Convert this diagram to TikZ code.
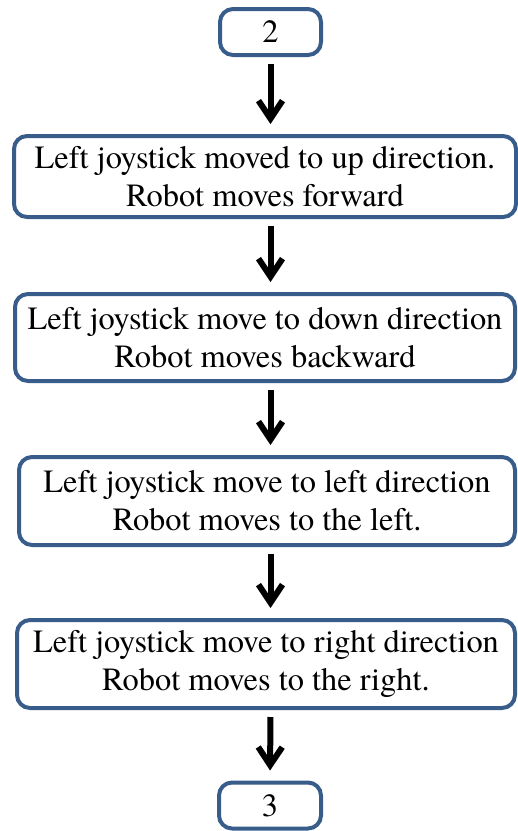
\documentclass[tikz,border=0pt]{standalone}
\usepackage{fontspec}
\setmainfont{TeX Gyre Termes}
\usetikzlibrary{arrows.meta}
\definecolor{boxblue}{HTML}{385D8A}
\begin{document}
\begin{tikzpicture}[x=0.5pt,y=-0.5pt,
  box/.style={draw=boxblue, line width=2pt, rounded corners=6.5pt, fill=white,
    align=center, inner sep=0pt, font=\fontsize{16.2}{19}\selectfont},
  flow/.style={line width=3pt, -{Straight Barb[length=9pt,width=12pt,line width=3pt]},
    shorten <=3.5pt, shorten >=5pt}]
\useasboundingbox (0,0) rectangle (518,831);

% connector boxes
\node[box, minimum width=50.5pt, minimum height=23pt] (n2) at (270.5,32) {2};
\node[box, minimum width=51pt, minimum height=23pt] (n3) at (270,805.5) {3};

% step boxes
\node[box, minimum width=251pt, minimum height=40.5pt] (b1) at (265,176.5)
  {Left joystick moved to up direction.\\Robot moves forward};
\node[box, minimum width=250pt, minimum height=43.5pt] (b2) at (265,337.5)
  {Left joystick move to down direction\\Robot moves backward};
\node[box, minimum width=248pt, minimum height=44pt] (b3) at (267,501)
  {Left joystick move to left direction\\Robot moves to the left.};
\node[box, minimum width=249pt, minimum height=44pt] (b4) at (266,664)
  {Left joystick move to right direction\\Robot moves to the right.};

% flow arrows
\draw[flow] (n2.south) -- (b1.north -| n2);
\draw[flow] (b1.south -| n2) -- (b2.north -| n2);
\draw[flow] (b2.south -| n2) -- (b3.north -| n2);
\draw[flow] (b3.south -| n2) -- (b4.north -| n2);
\draw[flow] (b4.south -| n2) -- (n3.north);
\end{tikzpicture}
\end{document}
